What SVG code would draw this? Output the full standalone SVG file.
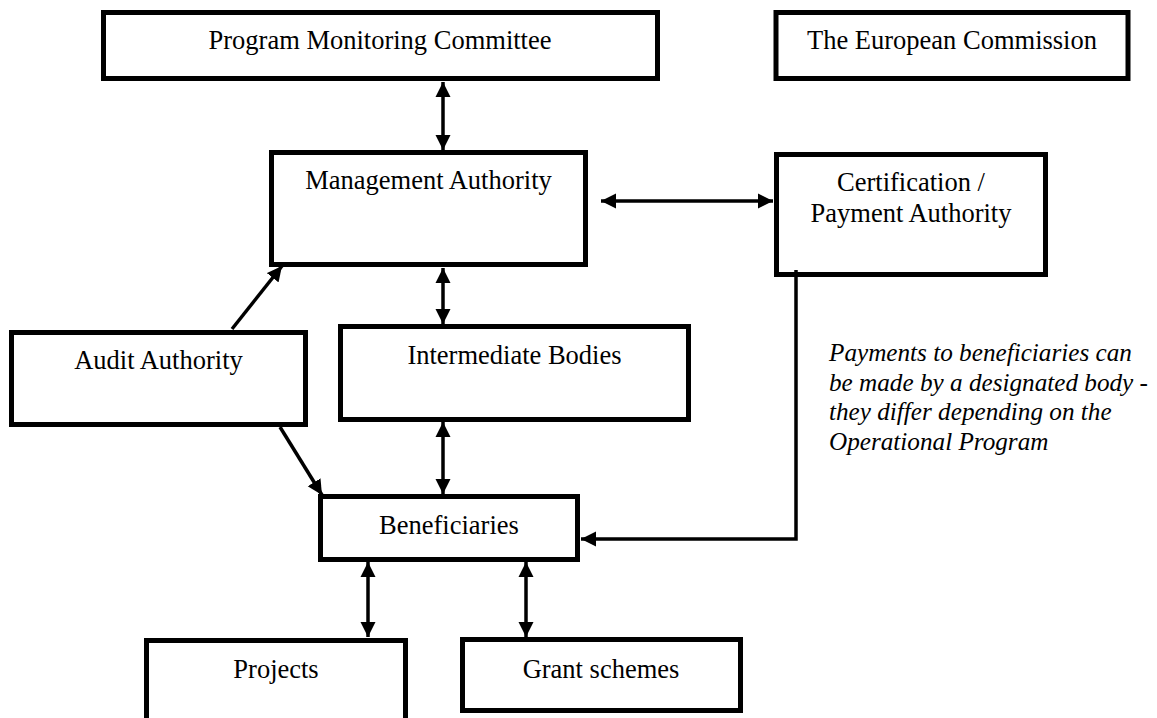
<svg xmlns="http://www.w3.org/2000/svg" width="1157" height="718" viewBox="0 0 1157 718">
<style>
.box{fill:#fff;stroke:#000;stroke-width:5}
.lbl{font-family:"Liberation Serif","Times New Roman",serif;font-size:26.5px;fill:#000;text-anchor:middle}
.note{font-family:"Liberation Serif","Times New Roman",serif;font-size:25.2px;font-style:italic;fill:#000}
.ln{fill:none;stroke:#000;stroke-width:3.5}
</style>
<defs>
<marker id="ah" markerUnits="userSpaceOnUse" markerWidth="16" markerHeight="16" refX="15" refY="8" orient="auto-start-reverse" viewBox="0 0 16 16">
<path d="M0,0.5 L15,8 L0,15.5 z" fill="#000"/>
</marker>
</defs>
<rect width="1157" height="718" fill="#fff"/>
<g id="pmc"><rect class="box" x="103.5" y="12.5" width="554" height="66"/><text class="lbl" x="380" y="49">Program Monitoring Committee</text></g>
<g id="ec"><rect class="box" x="776" y="12.5" width="352" height="66"/><text class="lbl" x="952" y="49">The European Commission</text></g>
<g id="ma"><rect class="box" x="271.5" y="152.5" width="314" height="112"/><text class="lbl" x="428.5" y="189">Management Authority</text></g>
<g id="cert"><rect class="box" x="776.5" y="154.5" width="269" height="120"/><text class="lbl" x="911" y="191">Certification /</text><text class="lbl" x="911" y="222">Payment Authority</text></g>
<g id="audit"><rect class="box" x="11.5" y="332.5" width="294" height="92"/><text class="lbl" x="158.5" y="369">Audit Authority</text></g>
<g id="ib"><rect class="box" x="340.5" y="326.5" width="348" height="93"/><text class="lbl" x="514.5" y="364">Intermediate Bodies</text></g>
<g id="ben"><rect class="box" x="320.5" y="496.5" width="257" height="63"/><text class="lbl" x="449" y="534">Beneficiaries</text></g>
<g id="proj"><rect class="box" x="146.5" y="640.5" width="259" height="100"/><text class="lbl" x="276" y="678">Projects</text></g>
<g id="grant"><rect class="box" x="462.5" y="639.5" width="278" height="71"/><text class="lbl" x="601" y="678">Grant schemes</text></g>
<g id="note"><text class="note" x="829" y="361">Payments to beneficiaries can</text><text class="note" x="829" y="390.5">be made by a designated body -</text><text class="note" x="829" y="420">they differ depending on the</text><text class="note" x="829" y="449.5">Operational Program</text></g>
<g id="connectors">
<line class="ln" x1="443" y1="82" x2="443" y2="150" marker-start="url(#ah)" marker-end="url(#ah)"/>
<line class="ln" x1="601" y1="201" x2="773" y2="201" marker-start="url(#ah)" marker-end="url(#ah)"/>
<line class="ln" x1="443" y1="268" x2="443" y2="324" marker-start="url(#ah)" marker-end="url(#ah)"/>
<line class="ln" x1="232" y1="329" x2="282" y2="266" marker-end="url(#ah)"/>
<line class="ln" x1="280" y1="427" x2="322" y2="495" marker-end="url(#ah)"/>
<line class="ln" x1="443" y1="422" x2="443" y2="494" marker-start="url(#ah)" marker-end="url(#ah)"/>
<polyline class="ln" points="796,270 796,539 581,539" marker-end="url(#ah)"/>
<line class="ln" x1="368" y1="562" x2="368" y2="637" marker-start="url(#ah)" marker-end="url(#ah)"/>
<line class="ln" x1="526" y1="562" x2="526" y2="637" marker-start="url(#ah)" marker-end="url(#ah)"/>
</g>
</svg>
